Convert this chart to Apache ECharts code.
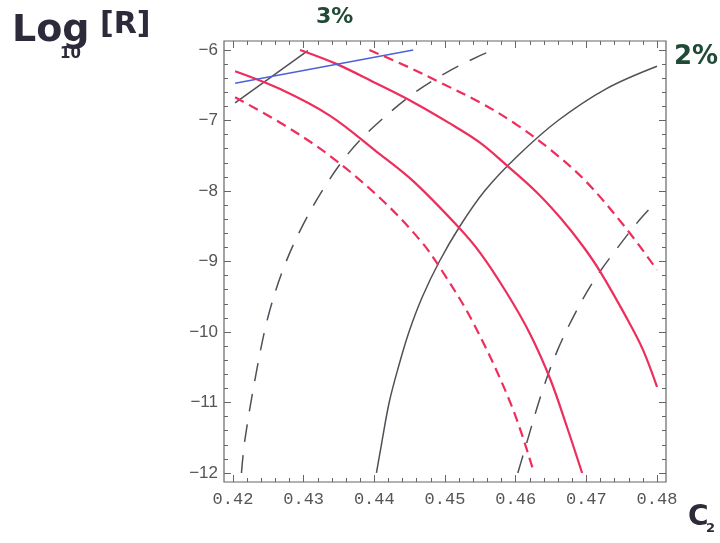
<!DOCTYPE html>
<html>
<head>
<meta charset="utf-8">
<script src="https://cdn.jsdelivr.net/npm/echarts@6/dist/echarts.min.js"></script>
<style>
  html, body { margin: 0; padding: 0; background: #fff; }
  #chart { width: 720px; height: 543px; }
</style>
</head>
<body>
<div id="chart"></div>
<script>
// tick labels
const xTicks = [0.42, 0.43, 0.44, 0.45, 0.46, 0.47, 0.48];
const yTicks = [-12, -11, -10, -9, -8, -7, -6];

// curves: [c2, log10 R]
const blueLine = [[0.4203, -6.47], [0.4455, -6.0]];
const grayShort = [[0.4203, -6.75], [0.4306, -6.01]];
const redSolidA = [[0.4295, -6.0], [0.4347, -6.2], [0.4400, -6.46], [0.4455, -6.74], [0.4505, -7.03],
  [0.4549, -7.31], [0.4589, -7.65], [0.4630, -8.02], [0.4665, -8.40], [0.4695, -8.78],
  [0.4720, -9.15], [0.4757, -9.80], [0.4780, -10.25], [0.4800, -10.78]];
const redSolidB = [[0.4203, -6.30], [0.4266, -6.55], [0.4337, -6.93], [0.4403, -7.44], [0.4455, -7.86],
  [0.4517, -8.49], [0.4550, -8.88], [0.4587, -9.44], [0.4620, -10.02], [0.4649, -10.67],
  [0.4672, -11.33], [0.4694, -12.0]];
const redDashC = [[0.4203, -6.67], [0.4270, -7.05], [0.4337, -7.50], [0.4408, -8.10], [0.4465, -8.70],
  [0.4495, -9.12], [0.4540, -9.87], [0.4594, -11.04], [0.4626, -12.0]];
const redDashD = [[0.4393, -6.0], [0.4450, -6.25], [0.4493, -6.46], [0.4549, -6.74], [0.4600, -7.05],
  [0.4650, -7.42], [0.4700, -7.87], [0.4757, -8.54], [0.4800, -9.12]];
const graySolidE = [[0.4403, -12.0], [0.4410, -11.6], [0.4421, -11.0], [0.4434, -10.5], [0.4449, -10.0],
  [0.4468, -9.5], [0.4492, -9.0], [0.4521, -8.5], [0.4556, -8.0], [0.4603, -7.5],
  [0.4660, -7.0], [0.4728, -6.55], [0.4800, -6.23]];
const grayDashF = [[0.4212, -12.0], [0.4217, -11.52], [0.4234, -10.52], [0.4250, -9.77], [0.4271, -9.11],
  [0.4296, -8.54], [0.4328, -7.97], [0.4363, -7.47], [0.4398, -7.10], [0.4455, -6.62],
  [0.4502, -6.32], [0.4545, -6.10], [0.4568, -6.0]];
const grayDashG = [[0.4603, -12.0], [0.4611, -11.73], [0.4637, -10.86], [0.4660, -10.24], [0.4686, -9.70],
  [0.4712, -9.25], [0.4743, -8.82], [0.4776, -8.40], [0.4800, -8.14]];

// minor ticks, 4 between majors
const xMinor = xTicks.slice(0, -1).flatMap(v => [1, 2, 3, 4].map(k => +(v + k * 0.002).toFixed(3)));
const yMinor = yTicks.slice(0, -1).flatMap(v => [1, 2, 3, 4].map(k => +(v + k * 0.2).toFixed(1)));

const frameColor = '#666';
const xRange = { min: 0.41873, max: 0.48127 };
const yRange = { min: -12.128, max: -5.872 };

function xAxisDef(position, ticks, len, labels) {
  return {
    type: 'value', position: position, ...xRange,
    axisLine: { show: false },
    splitLine: { show: false },
    axisTick: { show: true, inside: true, length: len, customValues: ticks, lineStyle: { color: frameColor } },
    axisLabel: labels ? {
      customValues: xTicks, formatter: v => v.toFixed(2), margin: 9,
      fontFamily: 'Liberation Mono', fontSize: 17, color: '#555'
    } : { show: false }
  };
}
function yAxisDef(position, ticks, len, labels) {
  return {
    type: 'value', position: position, ...yRange,
    axisLine: { show: false },
    splitLine: { show: false },
    axisTick: { show: true, inside: true, length: len, customValues: ticks, lineStyle: { color: frameColor } },
    axisLabel: labels ? {
      customValues: yTicks, formatter: v => String(v).replace('-', '\u2212'), margin: 6,
      fontFamily: 'Liberation Sans', fontSize: 17, color: '#555'
    } : { show: false }
  };
}

function line(data, color, width, type) {
  return {
    type: 'line', data: data, smooth: 0.35, symbol: 'none',
    xAxisIndex: 0, yAxisIndex: 0, silent: true,
    lineStyle: { color: color, width: width, type: type }
  };
}

const red = '#ee2d5c', gray = '#505058', blue = '#4c62d6';
const ink = '#2d2a3a', green = '#1f4a35';

const chart = echarts.init(document.getElementById('chart'));
chart.setOption({
  backgroundColor: '#fff',
  animation: false,
  grid: { left: 224, right: 54, top: 41, bottom: 61, show: true, borderColor: frameColor, borderWidth: 1.2 },
  xAxis: [
    xAxisDef('bottom', xTicks, 7, true),
    xAxisDef('bottom', xMinor, 4, false),
    xAxisDef('top', xTicks, 7, false),
    xAxisDef('top', xMinor, 4, false)
  ],
  yAxis: [
    yAxisDef('left', yTicks, 7, true),
    yAxisDef('left', yMinor, 4, false),
    yAxisDef('right', yTicks, 7, false),
    yAxisDef('right', yMinor, 4, false)
  ],
  series: [
    line(grayDashF, gray, 1.5, [18, 13]),
    line(grayDashG, gray, 1.5, [18, 13]),
    line(graySolidE, gray, 1.5, 'solid'),
    line(grayShort, gray, 1.5, 'solid'),
    line(redDashC, red, 2.2, [10, 6]),
    line(redDashD, red, 2.2, [10, 6]),
    line(redSolidA, red, 2.2, 'solid'),
    line(redSolidB, red, 2.2, 'solid'),
    line(blueLine, blue, 1.5, 'solid')
  ],
  graphic: [
    { type: 'text', left: 12, top: 12, style: { text: 'Log', font: 'bold 38px "DejaVu Sans"', fill: ink } },
    { type: 'text', left: 60, top: 47, style: { text: '10', font: 'bold 15px "DejaVu Sans"', fill: ink } },
    { type: 'text', left: 100, top: 10, style: { text: '[R]', font: 'bold 30px "DejaVu Sans"', fill: ink } },
    { type: 'text', left: 316, top: 6, style: { text: '3%', font: 'bold 22px "DejaVu Sans"', fill: green } },
    { type: 'text', left: 674, top: 44, style: { text: '2%', font: 'bold 26px "DejaVu Sans"', fill: green } },
    { type: 'text', left: 688, top: 504, style: { text: 'C', font: 'bold 28px "DejaVu Sans"', fill: ink } },
    { type: 'text', left: 706, top: 522, style: { text: '2', font: 'bold 13px "DejaVu Sans"', fill: ink } }
  ]
});
</script>
</body>
</html>
